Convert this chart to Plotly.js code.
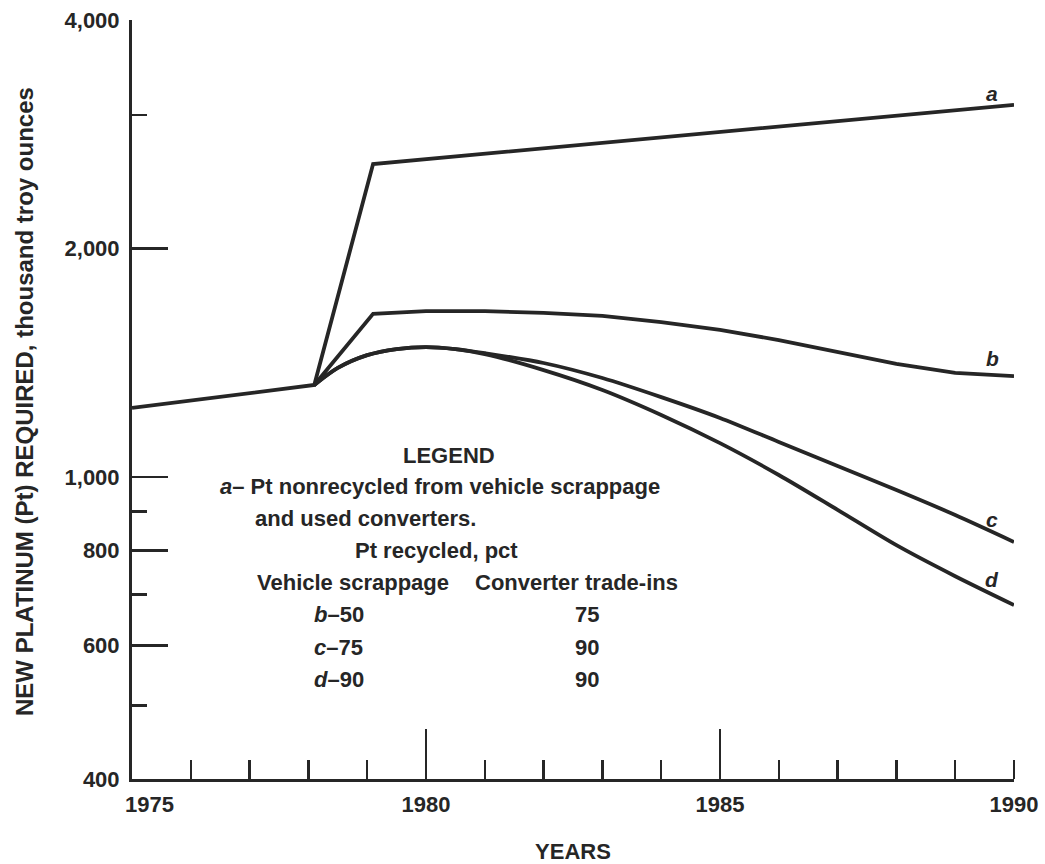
<!DOCTYPE html>
<html>
<head>
<meta charset="utf-8">
<script src="https://cdn.plot.ly/plotly-3.0.1.min.js"></script>
<style>html,body{margin:0;padding:0;background:#fff;}#chart{width:1045px;height:864px;}</style>
</head>
<body>
<div id="chart"></div>
<script>
// Data (values in thousand troy ounces)
var yearsA = [1975, 1978.1, 1979.1, 1983, 1986, 1990];
var valuesA = [1233, 1322, 2584, 2753, 2892, 3093];

var yearsB = [1978.1, 1979.1, 1980, 1981, 1982, 1983, 1984, 1985, 1986, 1987, 1988, 1989, 1990];
var valuesB = [1322, 1640, 1654, 1654, 1645, 1630, 1600, 1562, 1515, 1461, 1409, 1371, 1358];

var yearsCD = [1978.1, 1978.5, 1979, 1979.5, 1980, 1980.5, 1981, 1982, 1983, 1984, 1985, 1986, 1987, 1988, 1989, 1990];
var valuesC = [1322, 1392, 1447, 1474, 1483, 1474, 1456, 1413, 1350, 1274, 1196, 1112, 1034, 961, 891, 821];
var valuesD = [1322, 1392, 1447, 1474, 1483, 1474, 1452, 1383, 1302, 1207, 1108, 1006, 905, 813, 740, 678];

var yTickVals = [400, 600, 800, 1000, 2000, 4000];
var yTickText = ["400", "600", "800", "1,000", "2,000", "4,000"];
var yMinorVals = [500, 700, 900, 3000];
var xFirstLabel = 1975;
var xLabelVals = [1980, 1985, 1990];
var xLongTicks = [1980, 1985];
var xMinorVals = [1976, 1977, 1978, 1979, 1981, 1982, 1983, 1984, 1986, 1987, 1988, 1989, 1990];

var curveLabels = ["a", "b", "c", "d"];

var ink = "#262626";
var FONT = "Liberation Sans, Arial, sans-serif";

function line(x, y, shape) {
  return {x: x, y: y, type: "scatter", mode: "lines", line: {color: ink, width: 3.8, shape: shape, smoothing: 0.8}, hoverinfo: "skip", showlegend: false};
}

var traces = [line(yearsA, valuesA, "linear"), line(yearsB, valuesB, "linear"), line(yearsCD, valuesC, "spline"), line(yearsCD, valuesD, "spline")];
// overlay trace on second x axis for the long 1980/1985 ticks
traces.push({x: [1975], y: [400], xaxis: "x2", mode: "markers", marker: {opacity: 0}, hoverinfo: "skip", showlegend: false});

// curve end labels placed next to the final point of each curve
var ends = [[yearsA, valuesA, 1.035], [yearsB, valuesB, 1.055], [yearsCD, valuesC, 1.07], [yearsCD, valuesD, 1.08]];
var annotations = [];
ends.forEach(function (e, i) {
  var n = e[0].length - 1;
  annotations.push({
    x: e[0][n] - 0.37, y: Math.log10(e[1][n] * e[2]), xref: "x", yref: "y",
    text: "<i>" + curveLabels[i] + "</i>", showarrow: false,
    font: {family: FONT, size: 21, color: ink, weight: "bold"}, xanchor: "center", yanchor: "middle"
  });
});

function px2paperX(px) { return (px - 132) / 882; }
function px2paperY(py) { return (779 - py) / 759; }
function txt(text, px, py, anchor) {
  annotations.push({x: px2paperX(px), y: px2paperY(py), xref: "paper", yref: "paper", text: text,
    showarrow: false, xanchor: anchor, yanchor: "middle", font: {family: FONT, size: 22, color: ink, weight: "bold"}});
}
txt("LEGEND", 449, 455, "center");
txt("<i>a</i>\u2013 Pt nonrecycled from vehicle scrappage", 218, 486, "left");
txt("and used converters.", 253, 518, "left");
txt("Pt recycled, pct", 436, 550, "center");
txt("Vehicle scrappage", 255, 582, "left");
txt("Converter trade-ins", 473, 582, "left");
txt("<i>b</i>\u201350", 312, 614, "left");
txt("<i>c</i>\u201375", 312, 647, "left");
txt("<i>d</i>\u201390", 312, 679, "left");
txt("75", 587, 614, "center");
txt("90", 587, 647, "center");
txt("90", 587, 679, "center");

// first x label (offset to the right of the axis corner, as in the original)
annotations.push({x: xFirstLabel, y: px2paperY(804), xref: "x", yref: "paper", text: String(xFirstLabel),
  xshift: 17, showarrow: false, xanchor: "center", yanchor: "middle",
  font: {family: FONT, size: 22, color: ink, weight: "bold"}});
// y axis title
annotations.push({x: px2paperX(24), y: px2paperY(402), xref: "paper", yref: "paper",
  text: "NEW PLATINUM (Pt) REQUIRED, thousand troy ounces", textangle: -90, showarrow: false,
  xanchor: "center", yanchor: "middle", font: {family: FONT, size: 24, color: ink, weight: "bold"}});

var layout = {
  width: 1045, height: 864,
  margin: {l: 132, r: 31, t: 20, b: 85},
  paper_bgcolor: "#fff", plot_bgcolor: "#fff",
  font: {family: FONT, color: ink},
  showlegend: false,
  xaxis: {
    range: [1975, 1990], showgrid: false, zeroline: false,
    showline: true, linecolor: ink, linewidth: 3,
    tickmode: "array", tickvals: xLabelVals, ticks: "",
    ticklabelstandoff: 4,
    tickfont: {family: FONT, size: 22, color: ink, weight: "bold"},
    minor: {tickmode: "array", tickvals: xMinorVals, ticks: "inside", ticklen: 19, tickwidth: 2.5, tickcolor: ink, showgrid: false},
    title: {text: "YEARS", font: {family: FONT, size: 22, color: ink, weight: "bold"}, standoff: 30},
    fixedrange: true
  },
  xaxis2: {
    overlaying: "x", matches: "x", anchor: "y", side: "bottom",
    range: [1975, 1990], showgrid: false, zeroline: false, showline: false,
    tickmode: "array", tickvals: xLongTicks, ticks: "inside", ticklen: 50, tickwidth: 2.5, tickcolor: ink,
    showticklabels: false
  },
  yaxis: {
    type: "log", range: [Math.log10(400), Math.log10(4000)],
    showgrid: false, zeroline: false,
    showline: true, linecolor: ink, linewidth: 3,
    tickmode: "array", tickvals: yTickVals, ticktext: yTickText,
    ticks: "inside", ticklen: 36, tickwidth: 2.5, tickcolor: ink,
    ticklabelstandoff: 5,
    tickfont: {family: FONT, size: 22, color: ink, weight: "bold"},
    minor: {tickmode: "array", tickvals: yMinorVals, ticks: "inside", ticklen: 15, tickwidth: 2.5, tickcolor: ink, showgrid: false},
    fixedrange: true
  },
  annotations: annotations
};

Plotly.newPlot("chart", traces, layout, {staticPlot: true, displayModeBar: false});
</script>
</body>
</html>
